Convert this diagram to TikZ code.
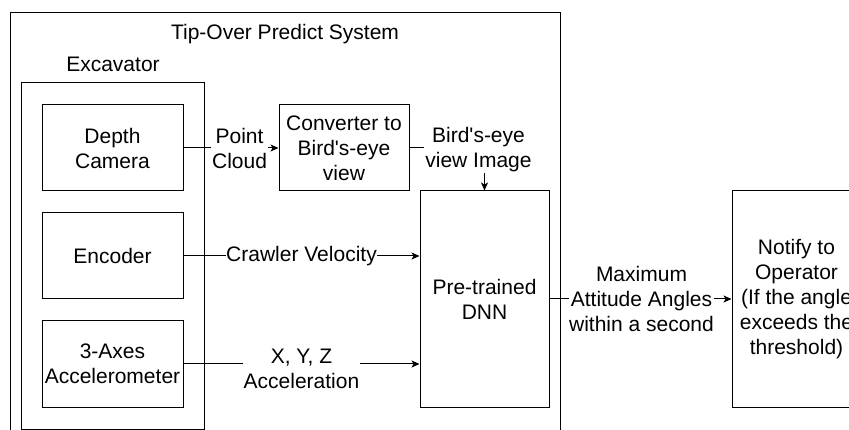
\documentclass[tikz,border=0pt]{standalone}
\usepackage{fontspec}
\setmainfont{Liberation Sans}
\usetikzlibrary{arrows.meta}
\begin{document}
\begin{tikzpicture}[x=1pt,y=-1pt,
  every node/.style={font=\fontsize{21}{25}\selectfont, text=black, align=center},
  box/.style={draw, line width=1pt, inner sep=0pt},
  lbl/.style={fill=white, inner sep=1pt},
  conn/.style={line width=1pt},
  arr/.style={conn, -{Stealth[length=8pt,width=7pt,inset=2pt]}}]
\useasboundingbox (0,0) rectangle (849,430);
\clip (0,0) rectangle (849,430);
% containers
\draw[line width=1pt] (10,500) -- (10,13) -- (560,13) -- (560,500);
\node (title) at (285,34) {Tip-Over Predict System};
\draw[line width=1pt] (21,429) rectangle (204,83);
\node (exc) at (113,64) {Excavator};
% boxes
\node[box, minimum width=141pt, minimum height=86pt] (depth) at (112.5,148) {Depth\\Camera};
\node[box, minimum width=141pt, minimum height=86pt] (enc) at (112.5,256) {Encoder};
\node[box, minimum width=141pt, minimum height=86pt] (acc) at (112.5,364) {3-Axes\\Accelerometer};
\node[box, minimum width=130pt, minimum height=86pt] (conv) at (344,148) {Converter to\\Bird\textquotesingle s-eye\\view};
\node[box, minimum width=129pt, minimum height=216pt] (dnn) at (484.5,299) {Pre-trained\\DNN};
\node[box, minimum width=129pt, minimum height=216pt] (notify) at (796.5,299) {Notify to\\Operator\\(If the angle\\exceeds the\\threshold)};
% connectors
\draw[arr] (depth.east) -- node[lbl, pos=0.59] (pc) {Point\\Cloud} (conv.west);
\draw[arr] (conv.east) -| node[lbl, pos=0.5, xshift=-6pt, yshift=-2pt] (bev) {Bird\textquotesingle s-eye\\view Image} (dnn.north);
\draw[arr] (enc.east) -- node[lbl, inner sep=0pt] (cv) {Crawler Velocity} (enc.east -| dnn.west);
\draw[arr] (acc.east) -- node[lbl, yshift=-5pt] (xyz) {X, Y, Z\\Acceleration} (acc.east -| dnn.west);
\draw[arr] (dnn.east) -- node[lbl, inner sep=0pt, xshift=1pt] (maxang) {Maximum\\Attitude Angles\\within a second} (notify.west);
\end{tikzpicture}
\end{document}
